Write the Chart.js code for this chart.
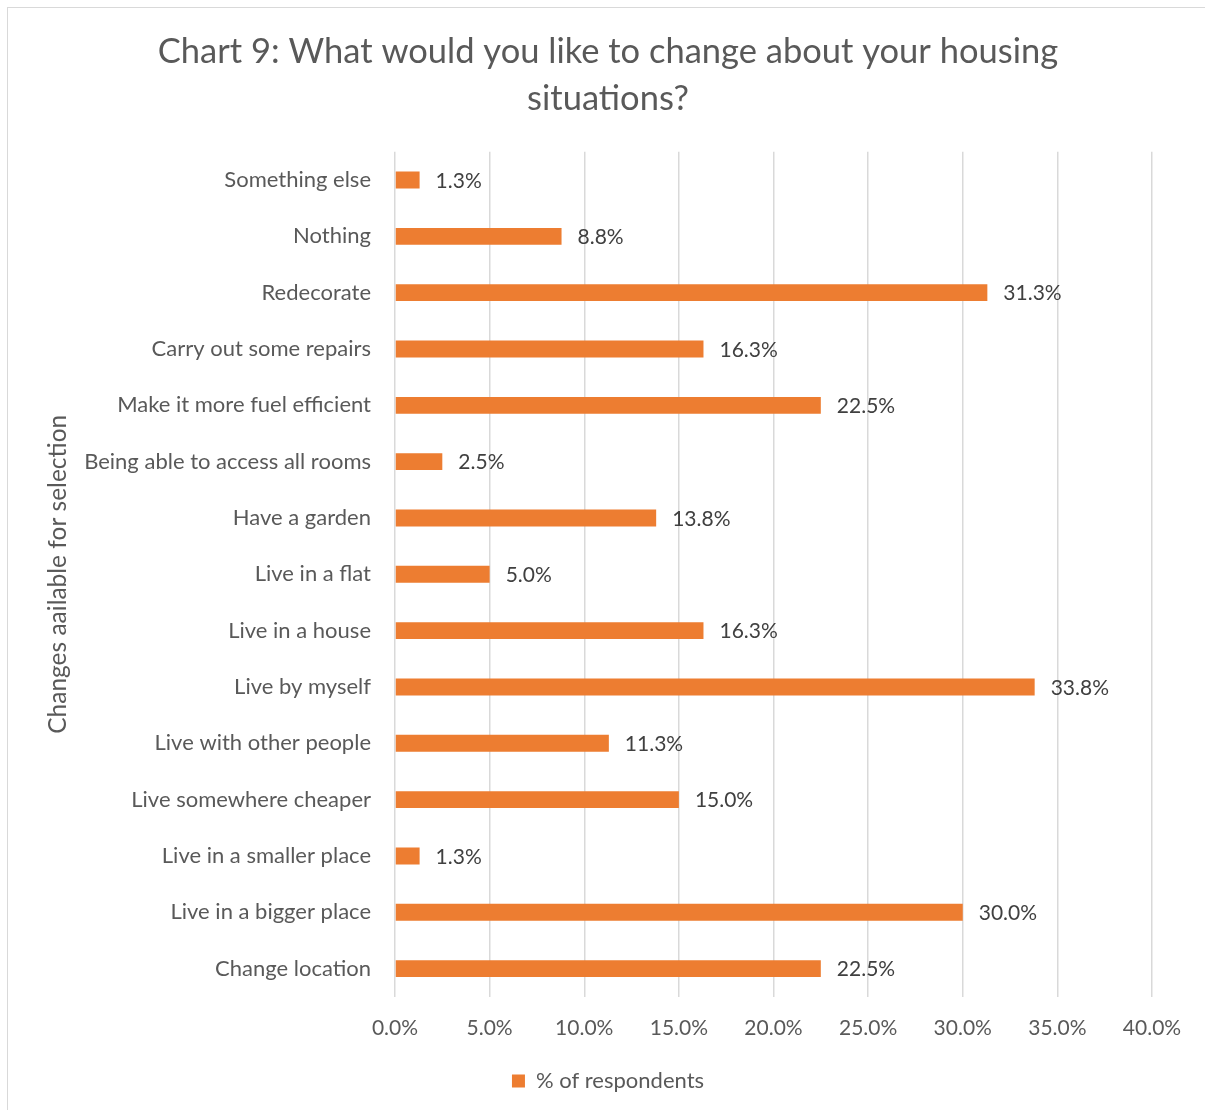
<!DOCTYPE html>
<html>
<head>
<meta charset="utf-8">
<script src="https://cdn.jsdelivr.net/npm/chart.js@4/dist/chart.umd.min.js"></script>
<style>
  body { margin: 0; background: #fff; }
  #wrap { position: relative; width: 1205px; height: 1110px; }
  #frame { position: absolute; left: 7px; top: 7px; width: 1205px; height: 1110px; border-left: 1px solid #d9d9d9; border-top: 1px solid #d9d9d9; }
  canvas { position: absolute; left: 0; top: 0; }
</style>
</head>
<body>
<div id="wrap">
  <div id="frame"></div>
  <canvas id="myChart" width="1205" height="1110"></canvas>
</div>
<script>
const categorias = [
  "Something else",
  "Nothing",
  "Redecorate",
  "Carry out some repairs",
  "Make it more fuel efficient",
  "Being able to access all rooms",
  "Have a garden",
  "Live in a flat",
  "Live in a house",
  "Live by myself",
  "Live with other people",
  "Live somewhere cheaper",
  "Live in a smaller place",
  "Live in a bigger place",
  "Change location",
];
const porcentajes = [1.3, 8.8, 31.3, 16.3, 22.5, 2.5, 13.8, 5.0, 16.3, 33.8, 11.3, 15.0, 1.3, 30.0, 22.5];
const ticksX = [0, 5, 10, 15, 20, 25, 30, 35, 40];

const fuente = "Lato, 'Open Sans', sans-serif";
const gris = "#595959";
const naranja = "#ED7D31";

// etiquetas de valor a la derecha de cada barra
const etiquetas = {
  id: "etiquetas",
  afterDatasetsDraw(chart) {
    const ctx = chart.ctx;
    const meta = chart.getDatasetMeta(0);
    ctx.save();
    ctx.font = "21px " + fuente;
    ctx.fillStyle = "#404040";
    ctx.textBaseline = "middle";
    ctx.textAlign = "left";
    meta.data.forEach((bar, i) => {
      ctx.fillText(porcentajes[i].toFixed(1) + "%", bar.x + 16, bar.y + 1);
    });
    ctx.restore();
  },
};

const chart = document.querySelector("#myChart");
const myChart = new Chart(chart, {
  type: "bar",
  data: {
    labels: categorias,
    datasets: [
      {
        label: "% of respondents",
        data: porcentajes,
        backgroundColor: naranja,
        categoryPercentage: 1,
        barPercentage: 0.3,
      },
    ],
  },
  options: {
    indexAxis: "y",
    responsive: false,
    animation: false,
    layout: { padding: { left: 64, right: 53, top: 8, bottom: 8 } },
    plugins: {
      title: {
        display: true,
        text: ["Chart 9: What would you like to change about your housing", "situations?"],
        color: gris,
        font: { family: fuente, size: 34.5, weight: "normal", lineHeight: 1.36 },
        padding: { top: 20, bottom: 30 },
      },
      legend: {
        position: "bottom",
        labels: {
          color: gris,
          font: { family: fuente, size: 22 },
          boxWidth: 13,
          boxHeight: 13,
          padding: 10,
        },
      },
      tooltip: { enabled: false },
    },
    scales: {
      x: {
        min: 0,
        max: 40,
        afterBuildTicks: (scale) => {
          scale.ticks = ticksX.map((v) => ({ value: v }));
        },
        ticks: {
          color: gris,
          font: { family: fuente, size: 21 },
          padding: 19,
          callback: (v) => v.toFixed(1) + "%",
        },
        grid: { color: "#D9D9D9", lineWidth: 1.5, drawTicks: false },
        border: { display: false },
      },
      y: {
        afterFit: (scale) => {
          scale.width = 331;
        },
        ticks: {
          color: gris,
          font: { family: fuente, size: 22 },
          padding: 16,
        },
        grid: { display: false },
        border: { display: false },
        title: {
          display: true,
          text: "Changes aailable for selection",
          color: gris,
          font: { family: fuente, size: 24.5 },
          padding: { top: -21, bottom: 0 },
        },
      },
    },
  },
  plugins: [etiquetas],
});
</script>
</body>
</html>
